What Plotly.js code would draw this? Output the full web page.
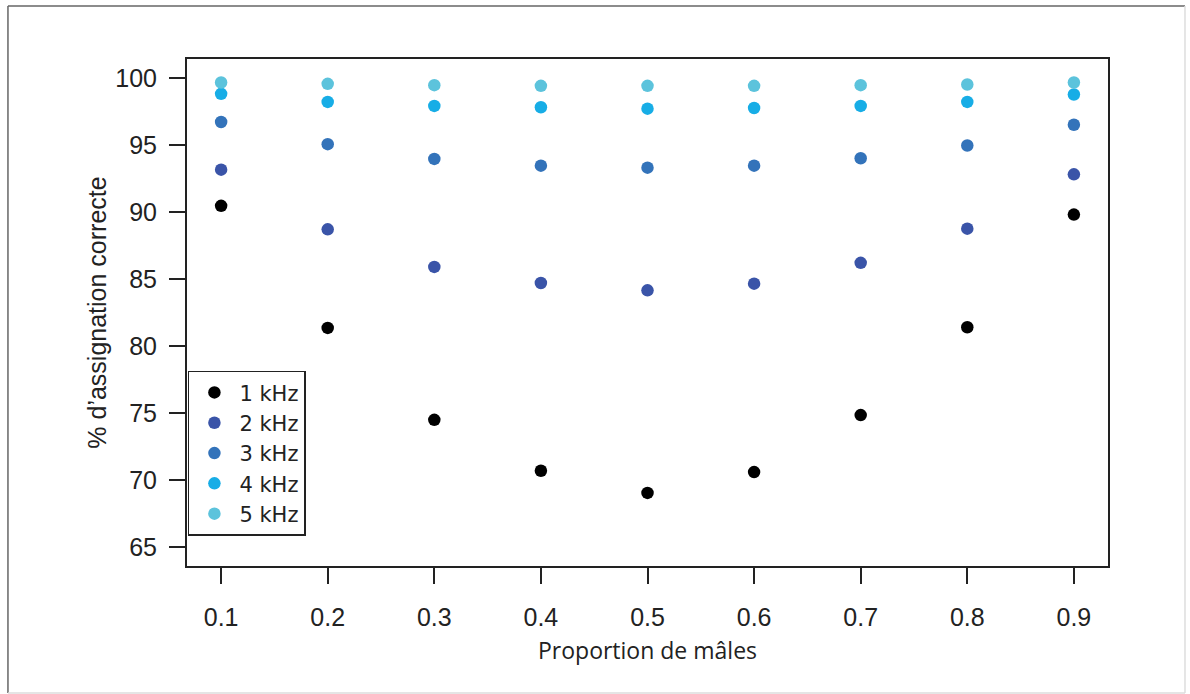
<!DOCTYPE html>
<html>
<head>
<meta charset="utf-8">
<script src="https://cdn.plot.ly/plotly-3.0.1.min.js"></script>
<style>html,body{margin:0;padding:0;background:#fff;}#chart{width:1190px;height:694px;}</style>
</head>
<body>
<div id="chart"></div>
<script>
// Data
const proportions = [0.1, 0.2, 0.3, 0.4, 0.5, 0.6, 0.7, 0.8, 0.9];
const seriesNames = ["1 kHz", "2 kHz", "3 kHz", "4 kHz", "5 kHz"];
const khz1 = [90.45, 81.35, 74.5, 70.7, 69.05, 70.6, 74.85, 81.4, 89.8];
const khz2 = [93.15, 88.7, 85.9, 84.7, 84.15, 84.65, 86.2, 88.75, 92.8];
const khz3 = [96.7, 95.05, 93.95, 93.45, 93.3, 93.45, 94.0, 94.95, 96.5];
const khz4 = [98.8, 98.2, 97.9, 97.8, 97.7, 97.75, 97.9, 98.2, 98.75];
const khz5 = [99.65, 99.55, 99.45, 99.4, 99.4, 99.4, 99.45, 99.5, 99.65];
const seriesColors = ["#000000", "#3a54a8", "#3373ba", "#17ade6", "#5cc3dc"];
const xTickVals = [0.1, 0.2, 0.3, 0.4, 0.5, 0.6, 0.7, 0.8, 0.9];
const yTickVals = [65, 70, 75, 80, 85, 90, 95, 100];

const allSeries = [khz1, khz2, khz3, khz4, khz5];
const traces = allSeries.map((vals, i) => ({
  type: "scatter",
  mode: "markers",
  x: proportions,
  y: vals,
  name: seriesNames[i],
  marker: { color: seriesColors[i], size: 12.5, line: { width: 0 } }
}));

const axisFont = { family: "Liberation Sans, Arial, sans-serif", size: 25, color: "#222" };

const layout = {
  width: 1190,
  height: 694,
  margin: { l: 187, r: 82, t: 59, b: 128 },
  paper_bgcolor: "#fff",
  plot_bgcolor: "#fff",
  showlegend: true,
  legend: {
    x: 0.001, xanchor: "left",
    y: 0.385, yanchor: "top",
    bordercolor: "#222", borderwidth: 1.5,
    bgcolor: "#fff",
    font: { family: "DejaVu Sans, Liberation Sans, sans-serif", size: 21, color: "#222" },
    itemwidth: 40,
    tracegroupgap: 0
  },
  xaxis: {
    range: [0.068, 0.932],
    tickvals: xTickVals,
    ticktext: xTickVals.map(v => v.toFixed(1)),
    ticks: "outside", ticklen: 16, tickwidth: 2, tickcolor: "#222",
    ticklabelstandoff: 12,
    showgrid: false, zeroline: false,
    showline: true, linecolor: "#222", linewidth: 2, mirror: true,
    tickfont: axisFont,
    title: { text: "Proportion de mâles", font: { family: "Open Sans, Noto Sans, sans-serif", size: 23, color: "#222" }, standoff: 13 }
  },
  yaxis: {
    range: [63.6, 101.4],
    tickvals: yTickVals,
    ticks: "outside", ticklen: 16, tickwidth: 2, tickcolor: "#222",
    ticklabelstandoff: 7,
    showgrid: false, zeroline: false,
    showline: true, linecolor: "#222", linewidth: 2, mirror: true,
    tickfont: axisFont,
    title: { text: "% d’assignation correcte", font: { family: "Liberation Sans, Arial, sans-serif", size: 25, color: "#222" }, standoff: 2 }
  },
  shapes: [
    { type: "line", xref: "paper", yref: "paper", x0: -0.1944, x1: 1.0836, y0: 1.1045, y1: 1.1045, line: { color: "#666", width: 1.5 } },
    { type: "line", xref: "paper", yref: "paper", x0: -0.1944, x1: -0.1944, y0: -0.2505, y1: 1.1045, line: { color: "#666", width: 1.5 } },
    { type: "line", xref: "paper", yref: "paper", x0: 1.0836, x1: 1.0836, y0: -0.2505, y1: 1.1045, line: { color: "#ddd", width: 1.5 } },
    { type: "line", xref: "paper", yref: "paper", x0: -0.1944, x1: 1.0836, y0: -0.2505, y1: -0.2505, line: { color: "#ddd", width: 1.5 } }
  ]
};

Plotly.newPlot("chart", traces, layout, { displayModeBar: false, responsive: false });
</script>
</body>
</html>
